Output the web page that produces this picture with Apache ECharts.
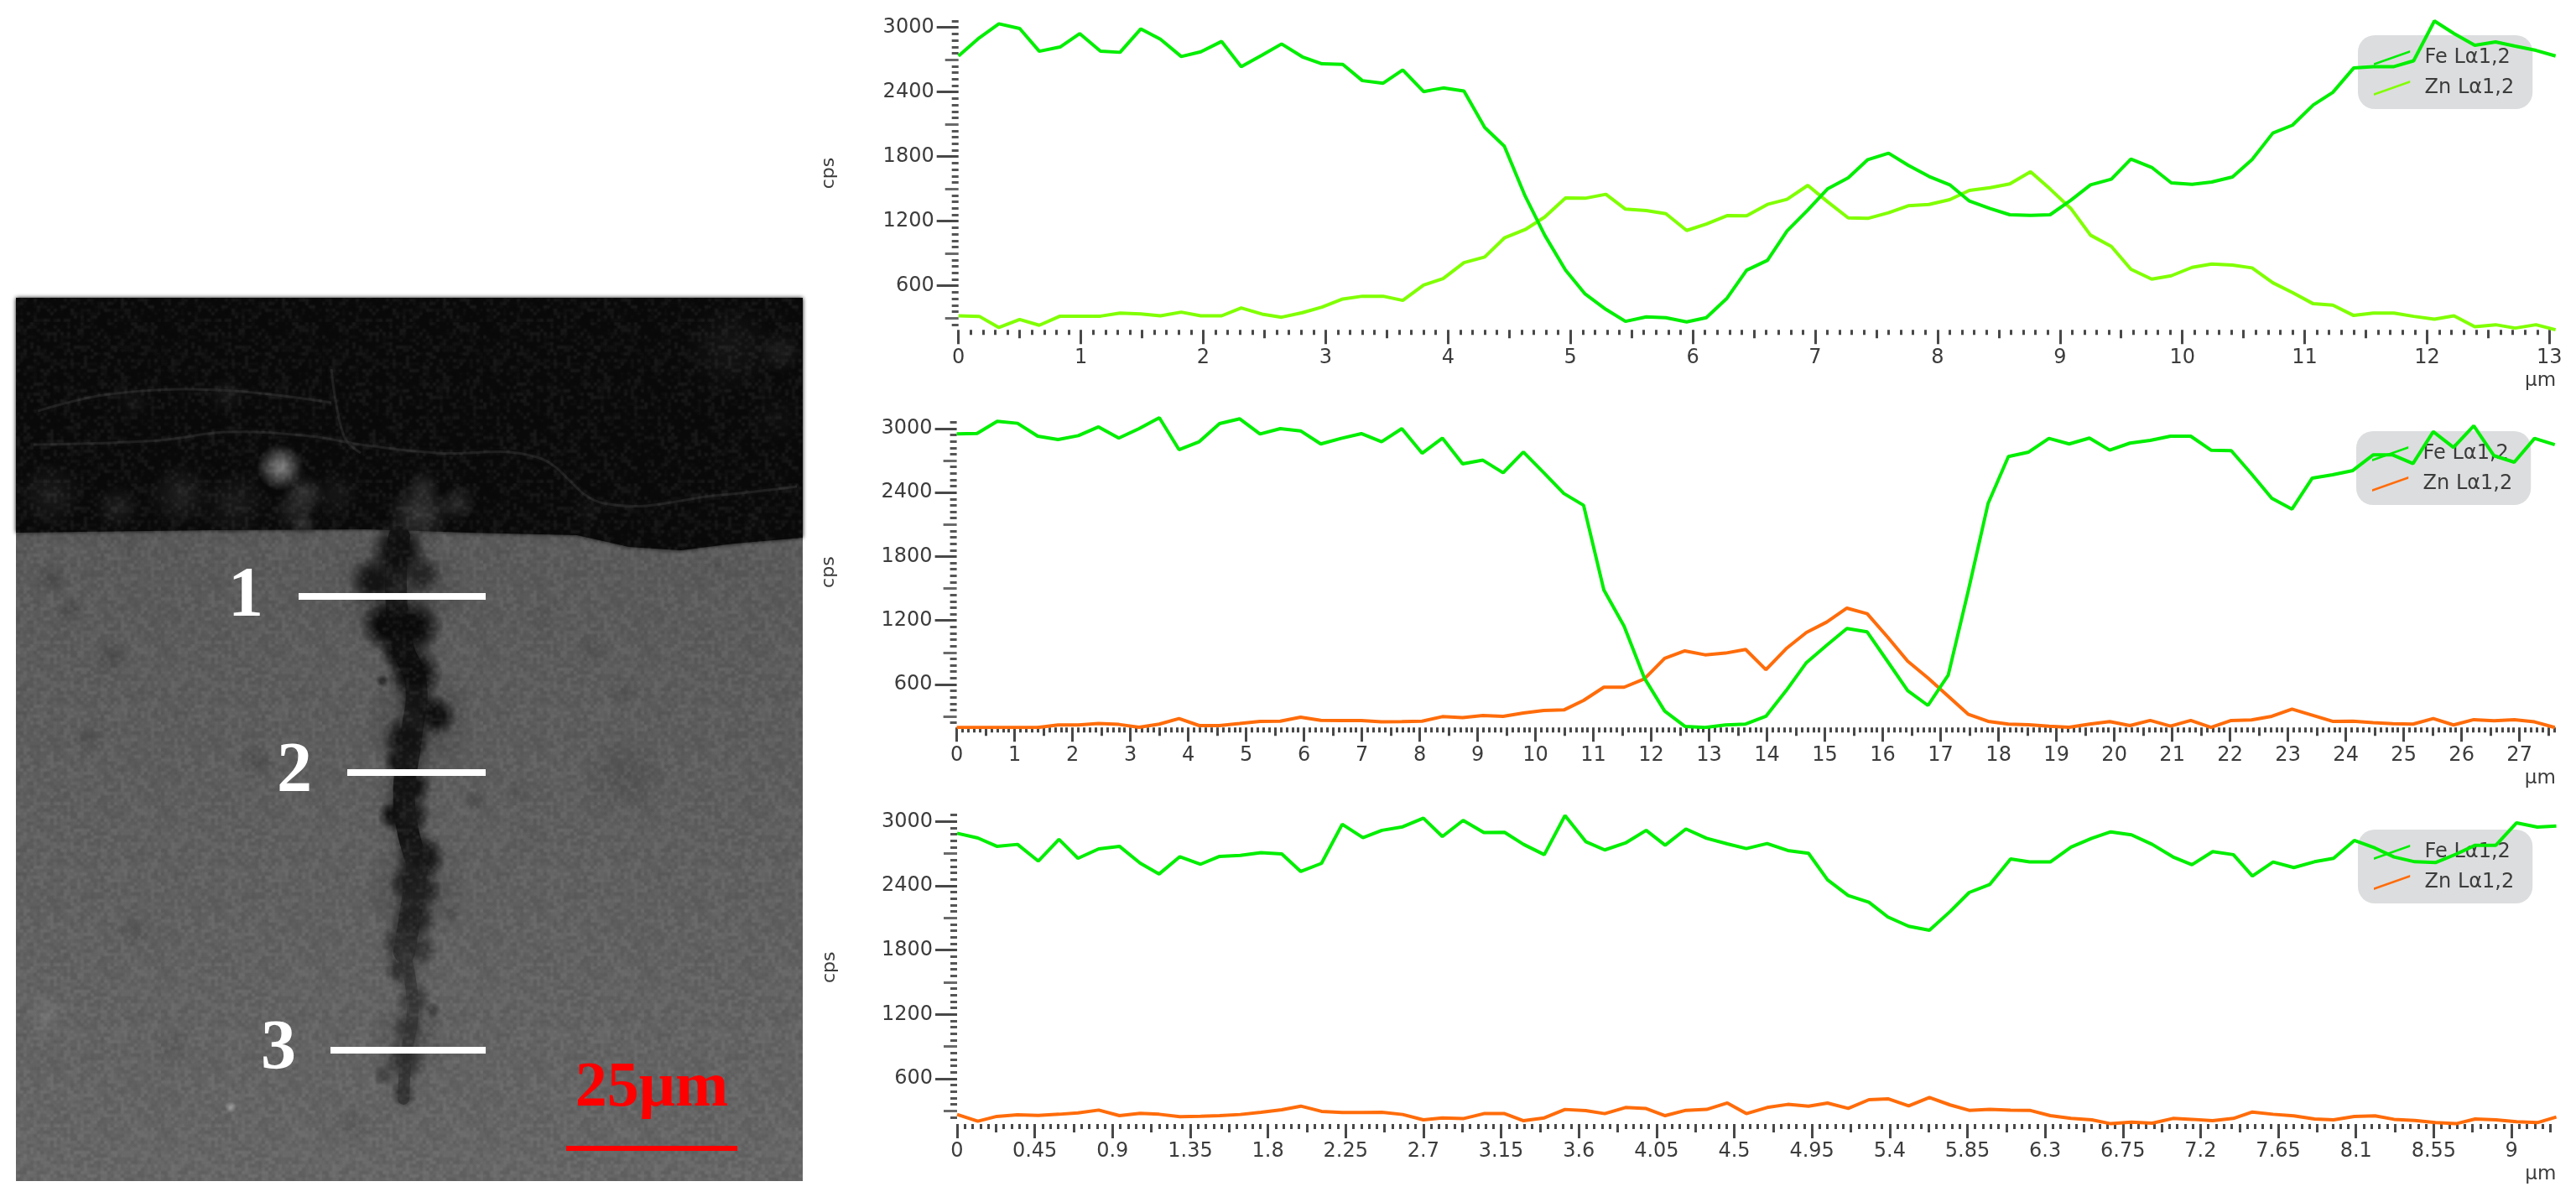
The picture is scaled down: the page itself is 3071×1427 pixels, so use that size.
<!DOCTYPE html>
<html><head><meta charset="utf-8">
<style>html,body{margin:0;padding:0;background:#fff}#c{width:3071px;height:1427px}</style>
<script src="https://cdn.jsdelivr.net/npm/echarts@6/dist/echarts.min.js"></script>
</head><body><div id="c"></div>
<script>
const feName = 'Fe Lα1,2', znName = 'Zn Lα1,2';
const yMajorTicks = [600,1200,1800,2400,3000];
const yMidTicks = [300,900,1500,2100,2700];

// Profile 1
const x1Ticks = [0,1,2,3,4,5,6,7,8,9,10,11,12,13];
const x1 = [0,.17,.33,.50,.66,.83,.99,1.16,1.32,1.49,1.65,1.82,1.98,2.15,2.31,2.48,2.64,2.81,2.97,3.14,3.30,3.47,3.63,3.80,3.96,4.13,4.30,4.46,4.63,4.79,4.96,5.12,5.29,5.45,5.62,5.78,5.95,6.11,6.28,6.44,6.61,6.77,6.94,7.10,7.27,7.43,7.60,7.76,7.93,8.10,8.26,8.43,8.59,8.76,8.92,9.09,9.25,9.42,9.58,9.75,9.91,10.08,10.24,10.41,10.57,10.74,10.90,11.07,11.23,11.40,11.56,11.73,11.89,12.06,12.22,12.39,12.56,12.72,12.89,13.05];
const fe1 = [2735,2904,3034,2990,2779,2818,2943,2779,2769,2987,2891,2730,2774,2870,2636,2742,2847,2727,2662,2657,2506,2482,2605,2404,2438,2410,2071,1897,1434,1070,745,524,381,269,311,303,264,303,485,745,836,1109,1304,1499,1603,1772,1832,1720,1616,1538,1387,1317,1260,1255,1260,1395,1538,1590,1778,1700,1556,1543,1564,1611,1772,2019,2092,2280,2397,2623,2636,2636,2690,3060,2943,2834,2865,2826,2787,2735];
const zn1 = [321,316,212,287,233,318,318,318,347,339,321,355,321,321,394,337,308,350,402,477,503,503,464,607,667,815,867,1044,1122,1239,1416,1413,1450,1312,1299,1270,1114,1174,1252,1250,1356,1403,1533,1382,1231,1226,1278,1343,1356,1400,1486,1512,1546,1660,1499,1317,1070,966,753,662,693,771,802,792,766,628,537,433,420,324,347,347,316,290,321,220,238,207,238,191];

// Profile 2
const x2Ticks = [0,1,2,3,4,5,6,7,8,9,10,11,12,13,14,15,16,17,18,19,20,21,22,23,24,25,26,27];
const x2 = [0,.35,.70,1.05,1.40,1.75,2.10,2.45,2.80,3.15,3.50,3.84,4.19,4.54,4.89,5.24,5.59,5.94,6.29,6.64,6.99,7.34,7.69,8.04,8.39,8.74,9.09,9.44,9.79,10.14,10.49,10.83,11.18,11.53,11.88,12.23,12.58,12.93,13.28,13.63,13.98,14.33,14.68,15.03,15.38,15.73,16.08,16.43,16.78,17.13,17.48,17.82,18.17,18.52,18.87,19.22,19.57,19.92,20.27,20.62,20.97,21.32,21.67,22.02,22.37,22.72,23.07,23.42,23.77,24.12,24.47,24.81,25.16,25.51,25.86,26.21,26.56,26.91,27.26,27.61];
const fe2 = [2950,2955,3068,3050,2929,2898,2934,3016,2911,3000,3102,2803,2877,3047,3092,2950,3000,2979,2856,2908,2953,2877,3000,2769,2911,2670,2704,2586,2780,2588,2391,2281,1487,1146,660,351,207,196,220,228,301,542,805,967,1125,1093,818,542,403,687,1487,2300,2738,2780,2908,2856,2911,2798,2864,2890,2929,2929,2798,2793,2575,2347,2245,2536,2567,2607,2753,2753,2672,2971,2824,3026,2746,2685,2908,2850];
const zn2 = [196,196,196,196,197,220,220,233,225,199,228,280,214,214,233,254,256,293,264,262,262,249,251,256,298,288,309,301,332,356,361,450,574,574,652,844,915,878,894,928,739,936,1088,1185,1316,1264,1046,818,660,490,319,254,228,222,209,199,228,251,214,262,209,262,198,262,267,301,369,312,254,256,241,231,228,280,220,270,259,270,249,196];

// Profile 3
const x3Ticks = [0,0.45,0.9,1.35,1.8,2.25,2.7,3.15,3.6,4.05,4.5,4.95,5.4,5.85,6.3,6.75,7.2,7.65,8.1,8.55,9];
const x3 = [0,.12,.23,.35,.47,.59,.70,.82,.94,1.06,1.17,1.29,1.41,1.52,1.64,1.76,1.88,1.99,2.11,2.23,2.35,2.46,2.58,2.70,2.81,2.93,3.05,3.17,3.28,3.40,3.52,3.64,3.75,3.87,3.99,4.10,4.22,4.34,4.46,4.57,4.69,4.81,4.93,5.04,5.16,5.28,5.39,5.51,5.63,5.75,5.86,5.98,6.10,6.21,6.33,6.45,6.57,6.68,6.80,6.92,7.04,7.15,7.27,7.39,7.50,7.62,7.74,7.86,7.97,8.09,8.21,8.32,8.44,8.56,8.68,8.79,8.91,9.03,9.15,9.26];
const fe3 = [2890,2846,2768,2786,2630,2833,2656,2744,2768,2611,2510,2671,2601,2674,2684,2708,2697,2533,2609,2974,2849,2917,2950,3031,2859,3010,2896,2898,2786,2690,3055,2812,2734,2799,2917,2778,2930,2843,2791,2747,2794,2729,2703,2455,2309,2246,2108,2022,1985,2160,2337,2413,2650,2622,2622,2760,2843,2903,2875,2786,2669,2596,2718,2690,2491,2622,2570,2624,2656,2823,2752,2669,2624,2616,2695,2778,2778,2987,2948,2958];
const zn3 = [266,203,248,263,258,268,281,307,255,276,268,245,250,255,266,287,310,344,295,284,284,287,266,216,234,227,274,274,208,234,313,302,274,331,321,255,305,313,373,274,331,360,344,373,323,404,412,347,425,355,305,313,307,305,255,229,216,180,195,185,229,221,208,229,289,268,253,224,216,248,253,221,211,190,180,224,216,198,190,242];

const GREEN = '#00ee00', LIME = '#80ff00', ORANGE = '#ff6c0a';
const FONT = 'DejaVu Sans', INK = '#3c3c3c', TICK = '#484848';

const panels = [
  {x:x1, fe:fe1, zn:zn1, zc:LIME,   ticks:x1Ticks, left:1142.7, top:19.9,  w:1905.4, h:373.4, ymin:190, ymax:3100, xmax:13.06,  unit:1,    box:[2811,42]},
  {x:x2, fe:fe2, zn:zn2, zc:ORANGE, ticks:x2Ticks, left:1140.6, top:497.0, w:1907.2, h:370.3, ymin:196, ymax:3110, xmax:27.64,  unit:1,    box:[2809,514]},
  {x:x3, fe:fe3, zn:zn3, zc:ORANGE, ticks:x3Ticks, left:1141,   top:966.5, w:1907.4, h:373.5, ymin:177, ymax:3100, xmax:9.264,  unit:0.45, box:[2811,989]}
];

function subTicks(step, max, skipEvery, from){
  const out = [];
  for (let k = from; k * step <= max + 1e-9; k++) {
    if (k % skipEvery !== 0) out.push(+(k * step).toFixed(4));
  }
  return out;
}

const grid = [], xAxis = [], yAxis = [], series = [], legend = [];
panels.forEach((p, g) => {
  grid.push({left:p.left, top:p.top, width:p.w, height:p.h, containLabel:false, outerBoundsMode:'none'});
  const xBase = {type:'value', gridIndex:g, min:0, max:p.xmax, position:'bottom',
    axisLine:{show:false, onZero:false}, splitLine:{show:false}, minorTick:{show:false}};
  const yBase = {type:'value', gridIndex:g, min:p.ymin, max:p.ymax, position:'left',
    axisLine:{show:false}, splitLine:{show:false}};
  xAxis.push({...xBase,
    name:'µm', nameLocation:'end', nameGap:0,
    nameTextStyle:{color:INK, fontFamily:FONT, fontSize:23, align:'right', verticalAlign:'top', padding:[49,1,0,0]},
    axisTick:{show:true, length:17, lineStyle:{color:TICK, width:3}, customValues:p.ticks},
    axisLabel:{show:true, margin:21, color:INK, fontFamily:FONT, fontSize:24, customValues:p.ticks, formatter:v=>String(v), hideOverlap:false}});
  xAxis.push({...xBase,
    axisTick:{show:true, length:10, lineStyle:{color:TICK, width:3}, customValues:subTicks(p.unit/2, p.xmax, 2, 0)},
    axisLabel:{show:false}});
  xAxis.push({...xBase,
    axisTick:{show:true, length:6, lineStyle:{color:TICK, width:3}, customValues:subTicks(p.unit/10, p.xmax, 5, 0)},
    axisLabel:{show:false}});
  yAxis.push({...yBase,
    name:'cps', nameLocation:'middle', nameGap:g===0?143:141, nameRotate:90,
    nameTextStyle:{color:INK, fontFamily:FONT, fontSize:22},
    axisTick:{show:true, length:26, lineStyle:{color:TICK, width:3}, customValues:yMajorTicks},
    axisLabel:{show:true, margin:29, color:INK, fontFamily:FONT, fontSize:24, customValues:yMajorTicks, formatter:v=>String(v)}});
  yAxis.push({...yBase,
    axisTick:{show:true, length:16, lineStyle:{color:'#6a6a6a', width:3}, customValues:yMidTicks},
    axisLabel:{show:false}});
  yAxis.push({...yBase,
    axisTick:{show:true, length:8, lineStyle:{color:'#555', width:3}, customValues:subTicks(60, 3060, 5, 4)},
    axisLabel:{show:false}});
  const line = (name, ys, color) => ({type:'line', name, xAxisIndex:g*3, yAxisIndex:g*3, showSymbol:false, symbol:'none',
    silent:true, animation:false, clip:true, z:3, lineStyle:{color, width:4}, itemStyle:{color},
    data:ys.map((v,i)=>[p.x[i], v])});
  series.push(line(znName, p.zn, p.zc));
  series.push(line(feName, p.fe, GREEN));
  const icon = 'path://M0,17 L48,0 L48,3 L0,20 Z';
  legend.push({show:true, orient:'vertical', left:p.box[0], top:p.box[1], z:1, selectedMode:false,
    backgroundColor:'#dcddde', borderRadius:20, padding:[15,22,13,19], itemGap:12, itemWidth:48, itemHeight:18,
    textStyle:{color:INK, fontFamily:FONT, fontSize:24, padding:[0,0,0,10]},
    data:[{name:feName, icon, itemStyle:{color:GREEN, borderWidth:0}},
          {name:znName, icon, itemStyle:{color:p.zc, borderWidth:0}}]});
});

// --- Micrograph panel, drawn with plain shapes and real text ---
function blob(cx, cy, rx, ry, g, a, core){
  const c = al => `rgba(${g},${g},${g},${al})`;
  return {type:'ellipse', silent:true, z:1, shape:{cx, cy, rx, ry},
    style:{fill:{type:'radial', x:.5, y:.5, r:.5, colorStops:[{offset:0,color:c(a)},{offset:core,color:c(a)},{offset:1,color:c(0)}]}}};
}
// film grain for the micrograph, a fixed hashed texture
function grainTexture(){
  const s = 192, cv = document.createElement('canvas'); cv.width = cv.height = s;
  const cx = cv.getContext('2d');
  const h = (a,b) => { const v = Math.sin(a*12.9898+b*78.233)*43758.5453; return v-Math.floor(v); };
  cx.filter = 'blur(1.2px)';
  for (let j=0;j<s;j+=4) for (let i=0;i<s;i+=4) {
    const v = h(i,j);
    cx.fillStyle = v>.5 ? `rgba(255,255,255,${(v-.5)*.16})` : `rgba(0,0,0,${(.5-v)*.2})`;
    cx.fillRect(i,j,4,4);
  }
  return cv;
}
const photo = [
  {type:'rect', silent:true, z:0, shape:{x:19,y:355,width:938,height:1053},
   style:{fill:{type:'linear',x:0,y:0,x2:0,y2:1,colorStops:[{offset:0,color:'#565656'},{offset:.5,color:'#5d5d5d'},{offset:1,color:'#666666'}]}}},
  {type:'polygon', silent:true, z:1, shape:{points:[[19,355],[957,355],[957,641],[875,648],[812,656],[750,652],[688,638],[562,635],[438,631],[250,632],[19,635]]},
   style:{fill:'#090909', shadowBlur:5, shadowColor:'#090909'}},
];
// mottled grey debris above the surface: [cx, cy, rx, ry, grey, alpha]
[[60,590,90,40,38,.6],[140,605,80,28,36,.7],[215,590,70,38,44,.6],[280,600,70,40,32,.7],[350,610,60,26,40,.7],[400,590,40,30,30,.6],
 [160,480,100,18,30,.5],[270,470,60,22,36,.5],[870,415,80,55,34,.45],[930,420,26,60,60,.35],[925,500,30,40,24,.4],
 [334,557,28,38,135,.9],[362,590,26,34,55,.8],[362,625,16,22,58,.7],[500,612,38,40,60,.85],[545,600,30,22,52,.7],[505,580,20,26,58,.6],
 [700,610,80,20,26,.5],[900,620,70,16,20,.5]]
  .forEach(b=>photo.push(blob(b[0],b[1],b[2],b[3],b[4],b[5],.1)));
// thin traces in the dark layer
[[[45,490],[130,470],[260,465],[395,480]],[[40,530],[190,525],[270,515],[370,520],[430,530],[520,540],[640,545],[720,600],[860,590],[950,580]],[[395,440],[410,520],[430,540]]]
  .forEach(pts=>photo.push({type:'polyline', silent:true, z:1, shape:{points:pts,smooth:.4}, style:{stroke:'rgba(40,40,40,.7)', lineWidth:3, fill:null, shadowBlur:5, shadowColor:'#1c1c1c'}}));
// faint surface marks, elongated and soft
[[62,690,22,44,70,.6],[84,728,28,18,64,.6],[150,652,14,26,68,.55],[134,784,24,34,70,.6],[105,880,20,22,72,.5],[306,908,34,22,68,.6],[744,925,70,54,78,.6],[650,730,44,26,80,.5],[705,775,24,50,80,.5],[620,945,60,20,78,.5],[160,1110,22,44,78,.5],[745,825,22,44,80,.5],[855,675,26,16,76,.5],[420,1340,26,70,80,.45],[205,1250,60,24,80,.4],[630,1000,70,30,84,.35]]
  .forEach(b=>photo.push(blob(b[0],b[1],b[2],b[3],b[4],b[5],.1)));
[[275,1320,9,7,170,.75],[55,1210,26,30,118,.55],[880,1395,12,9,110,.6]].forEach(b=>photo.push(blob(b[0],b[1],b[2],b[3],b[4],b[5],.15)));
// the crack: a soft dark spine with overlapping lobes
[[[476,640],[472,700],[480,770],[496,815],[490,880],[482,960],[498,1030]],[[498,1030],[490,1085],[482,1135]],[[482,1135],[492,1200],[484,1260],[481,1310]]]
  .forEach((pts,i)=>photo.push({type:'polyline', silent:true, z:1, shape:{points:pts,smooth:.5},
    style:{stroke:['#131313','#232323','#3a3a3a'][i], lineWidth:[26,26,14][i], lineCap:'round', fill:null, shadowBlur:16, shadowColor:['#2a2a2a','#333','#444'][i]}}));
[[475,700,80,120,50,.4],[500,860,70,110,50,.35],[495,1060,64,130,62,.4],[490,1240,54,100,66,.35],
 [475,658,44,34,14,1],[446,692,30,34,18,.95],[503,685,24,30,32,.85],[462,745,34,34,10,1],[492,748,36,36,10,1],[474,778,32,22,14,.95],
 [494,802,34,34,12,1],[456,812,22,8,28,.7],[498,838,24,20,20,1],[520,853,27,25,14,1],[484,882,34,30,18,1],[476,908,24,20,22,1],[492,938,24,32,18,1],[470,972,26,20,16,1],[492,972,22,26,24,.9],
 [503,1022,32,30,22,1],[488,1052,26,28,28,1],[506,1062,22,28,32,.85],[494,1094,30,28,30,.85],[476,1122,22,26,44,.85],[502,1132,20,28,46,.8],[478,1156,26,20,44,.85],
 [494,1192,22,28,54,.75],[516,1205,10,38,54,.65],[485,1227,20,32,50,.75],[482,1264,26,28,46,.8],[481,1304,16,18,50,.85],[458,1282,14,16,60,.7],[566,955,14,38,74,.6],[538,1090,10,26,74,.6]]
  .forEach(b=>photo.push(blob(b[0],b[1],b[2],b[3],b[4],b[5],.35)));
photo.push({type:'rect', silent:true, z:1, shape:{x:19,y:355,width:938,height:1053}, style:{fill:{image:grainTexture(), repeat:'repeat'}}});
// profile markers
[[356,579,711],[414,579,921],[394,579,1252]].forEach(l=>photo.push({type:'line', silent:true, z:2, shape:{x1:l[0],y1:l[2],x2:l[1],y2:l[2]}, style:{stroke:'#fff', lineWidth:8}}));
[['1',293,712],['2',351,921],['3',332,1252]].forEach(t=>photo.push({type:'text', silent:true, z:2, style:{text:t[0], x:t[1], y:t[2], fill:'#fff', font:'bold 84px "Liberation Serif"', textAlign:'center', textVerticalAlign:'middle'}}));
photo.push({type:'text', silent:true, z:2, style:{text:'25μm', x:777, y:1298, fill:'#f00', font:'bold 76px "Liberation Serif"', textAlign:'center', textVerticalAlign:'middle'}});
photo.push({type:'line', silent:true, z:2, shape:{x1:675,y1:1369,x2:879,y2:1369}, style:{stroke:'#f00', lineWidth:6}});

const chart = echarts.init(document.getElementById('c'), null, {renderer:'canvas', width:3071, height:1427});
chart.setOption({animation:false, backgroundColor:'#fff', tooltip:{show:false}, grid, xAxis, yAxis, series, legend, graphic:{elements:photo}});
</script></body></html>
